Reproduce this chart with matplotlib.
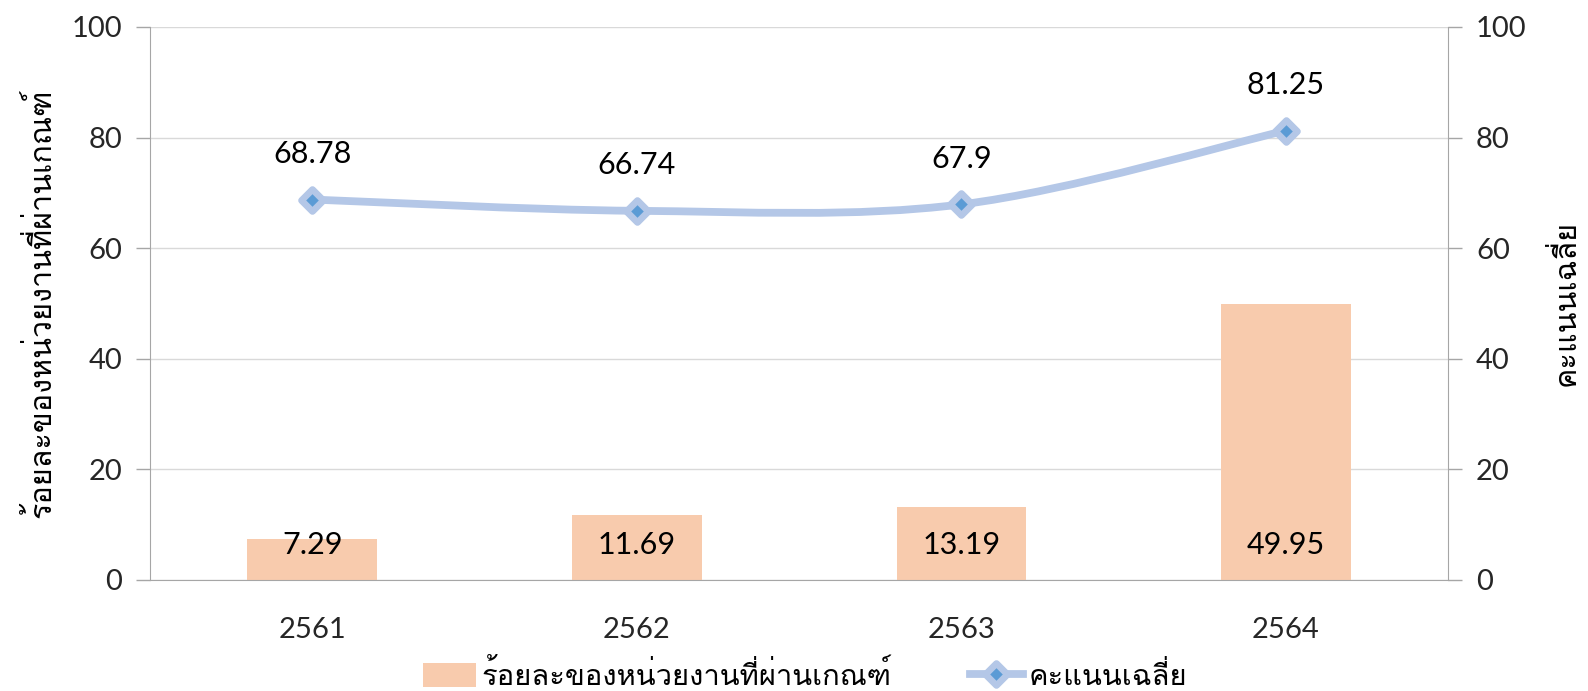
import numpy as np
import matplotlib
matplotlib.use('Agg')
import matplotlib.pyplot as plt
from matplotlib import font_manager
from matplotlib.path import Path
from matplotlib.patches import PathPatch, Patch
from matplotlib.lines import Line2D
from matplotlib.markers import MarkerStyle

years = ['2561', '2562', '2563', '2564']
pass_pct = [7.29, 11.69, 13.19, 49.95]
avg_score = [68.78, 66.74, 67.9, 81.25]
bar_name = 'ร้อยละของหน่วยงานที่ผ่านเกณฑ์'
line_name = 'คะแนนเฉลี่ย'
y_ticks = [0, 20, 40, 60, 80, 100]


def find_thai_font():
    # look for any installed font that has thai glyphs
    from fontTools.ttLib import TTFont
    for f in font_manager.fontManager.ttflist:
        try:
            cmap = TTFont(f.fname, fontNumber=0, lazy=True).getBestCmap()
        except Exception:
            continue
        if cmap and 0x0E04 in cmap and 0x0E4C in cmap:
            return f.name
    return None


thai = find_thai_font()
num_font = ['Lato', 'DejaVu Sans']
txt_font = ([thai] if thai else []) + ['Lato', 'DejaVu Sans']
plt.rcParams['font.family'] = txt_font

bar_c = '#F8CBAD'
line_c = '#B4C7E7'
dot_c = '#5B9BD5'
axis_c = '#A6A6A6'
grid_c = '#D9D9D9'
tick_c = '#262626'

fig = plt.figure(figsize=(15.88, 6.91), dpi=100)
ax1 = fig.add_axes([0.0945, 0.161, 0.8175, 0.8])
ax2 = ax1.twinx()

x = np.arange(len(years)) + 0.5
ax1.bar(x, pass_pct, width=0.4, color=bar_c, zorder=2)
for xi, v in zip(x, pass_pct):
    ax1.annotate(str(v), (xi, 0), xytext=(0, 25), textcoords='offset points',
                 ha='center', va='center', fontsize=22, family=num_font,
                 color='black', zorder=5)

# smoothed line (catmull-rom as bezier)
pts = np.column_stack([x, avg_score])
verts = [pts[0]]
codes = [Path.MOVETO]
for i in range(len(pts) - 1):
    p0 = pts[max(i - 1, 0)]
    p1 = pts[i]
    p2 = pts[i + 1]
    p3 = pts[min(i + 2, len(pts) - 1)]
    verts += [p1 + (p2 - p0) / 6, p2 - (p3 - p1) / 6, p2]
    codes += [Path.CURVE4] * 3
ax2.add_patch(PathPatch(Path(verts, codes), facecolor='none', edgecolor=line_c,
                        lw=5.6, capstyle='round', zorder=3))
mk = MarkerStyle('D', joinstyle='round')
ax2.plot(x, avg_score, ls='none', marker=mk, ms=11, mfc=dot_c, mec=line_c,
         mew=4.8, zorder=4)
for xi, v in zip(x, avg_score):
    ax2.annotate(str(v), (xi, v), xytext=(0, 33), textcoords='offset points',
                 ha='center', va='center', fontsize=22, family=num_font,
                 color='black')

for ax in (ax1, ax2):
    ax.set_xlim(0, len(years))
    ax.set_ylim(0, 100)
    ax.set_yticks(y_ticks)
    for s in ax.spines.values():
        s.set_visible(False)
    ax.tick_params(axis='y', length=10, width=1, color=axis_c, labelcolor=tick_c,
                   labelsize=21, pad=10)
    for lab in ax.get_yticklabels():
        lab.set_family(num_font)

ax1.spines['left'].set_visible(True)
ax1.spines['left'].set_color(axis_c)
ax1.spines['bottom'].set_visible(True)
ax1.spines['bottom'].set_color(axis_c)
ax2.spines['right'].set_visible(True)
ax2.spines['right'].set_color(axis_c)
ax1.yaxis.grid(True, color=grid_c, lw=1, zorder=0)
ax1.set_axisbelow(True)

ax1.set_xticks(x)
ax1.set_xticklabels(years, family=num_font)
ax1.tick_params(axis='x', length=0, labelsize=21, labelcolor=tick_c, pad=27)

ax1.set_ylabel(bar_name, fontsize=22, color='black')
ax1.yaxis.set_label_coords(-0.072, 0.5)
ax2.set_ylabel(line_name, fontsize=22, color='black', rotation=90)
ax2.yaxis.set_label_coords(1.078, 0.5)

handles = [Patch(facecolor=bar_c, edgecolor='none'),
           Line2D([], [], color=line_c, lw=5.6, marker=mk, ms=11, mfc=dot_c,
                  mec=line_c, mew=4.8)]
fig.legend(handles, [bar_name, line_name], loc='center', bbox_to_anchor=(0.507, 0.022),
           ncol=2, frameon=False, fontsize=21, handlelength=1.8, handleheight=0.9,
           handletextpad=0.2, columnspacing=2.7, labelcolor='black')

fig.savefig('out.png', dpi=100)
